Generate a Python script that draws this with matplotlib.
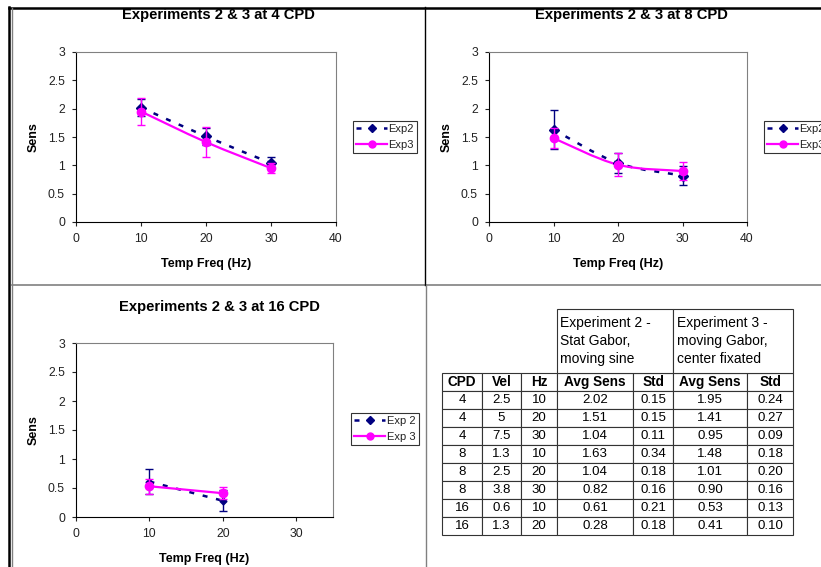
import matplotlib
matplotlib.use("Agg")
import matplotlib.pyplot as plt
from matplotlib.path import Path
from matplotlib.patches import PathPatch
from matplotlib.lines import Line2D

plt.rcParams['font.family'] = ['Liberation Sans', 'DejaVu Sans']

W, H = 821, 567

# table data (also the source for the three charts)
cpd = [4, 4, 4, 8, 8, 8, 16, 16]
vel = ['2.5', '5', '7.5', '1.3', '2.5', '3.8', '0.6', '1.3']
hz = [10, 20, 30, 10, 20, 30, 10, 20]
exp2_avg = [2.02, 1.51, 1.04, 1.63, 1.04, 0.82, 0.61, 0.28]
exp2_std = [0.15, 0.15, 0.11, 0.34, 0.18, 0.16, 0.21, 0.18]
exp3_avg = [1.95, 1.41, 0.95, 1.48, 1.01, 0.90, 0.53, 0.41]
exp3_std = [0.24, 0.27, 0.09, 0.18, 0.20, 0.16, 0.13, 0.10]

col_labels = ['CPD', 'Vel', 'Hz', 'Avg Sens', 'Std', 'Avg Sens', 'Std']
group_labels = ['Experiment 2 -\nStat Gabor,\nmoving sine',
                'Experiment 3 -\nmoving Gabor,\ncenter fixated']

NAVY = '#000080'
MAG = '#FF00FF'
GREY = '#808080'
DASH = (0, (2.0, 3.5))

fig = plt.figure(figsize=(W / 100, H / 100), dpi=100)
fig.patch.set_facecolor('white')


def fx(x):
    return x / W


def fy(y):
    return 1 - y / H


def px_axes(x0, y0, x1, y1):
    return fig.add_axes([fx(x0), fy(y1), (x1 - x0) / W, (y1 - y0) / H])


def smooth_path(xs, ys):
    # excel-style smoothed line: catmull-rom segments as cubic beziers
    pts = list(zip(xs, ys))
    if len(pts) < 3:
        return Path(pts)
    verts = [pts[0]]
    codes = [Path.MOVETO]
    n = len(pts)
    for i in range(n - 1):
        p0 = pts[i - 1] if i > 0 else pts[i]
        p1 = pts[i]
        p2 = pts[i + 1]
        p3 = pts[i + 2] if i + 2 < n else pts[i + 1]
        c1 = (p1[0] + (p2[0] - p0[0]) / 6, p1[1] + (p2[1] - p0[1]) / 6)
        c2 = (p2[0] - (p3[0] - p1[0]) / 6, p2[1] - (p3[1] - p1[1]) / 6)
        verts += [c1, c2, p2]
        codes += [Path.CURVE4] * 3
    return Path(verts, codes)


def chart(box, c, xmax, title_x, title_y, leg_xy, names, small=False):
    ax = px_axes(*box)
    idx = [i for i, v in enumerate(cpd) if v == c]
    x = [hz[i] for i in idx]
    e2 = [exp2_avg[i] for i in idx]
    e2s = [exp2_std[i] for i in idx]
    e3 = [exp3_avg[i] for i in idx]
    e3s = [exp3_std[i] for i in idx]

    ax.add_patch(PathPatch(smooth_path(x, e2), fill=False, edgecolor=NAVY,
                           lw=1.8, linestyle=DASH, zorder=3))
    ax.add_patch(PathPatch(smooth_path(x, e3), fill=False, edgecolor=MAG,
                           lw=1.6, zorder=3))
    ax.errorbar(x, e2, yerr=e2s, fmt='D', color=NAVY, ms=3.5 if small else 5,
                capsize=3, elinewidth=1, capthick=1, zorder=4)
    ax.errorbar(x, e3, yerr=e3s, fmt='o', color=MAG, ms=6, capsize=3,
                elinewidth=1, capthick=1, zorder=5)

    ax.set_xlim(0, xmax)
    ax.set_ylim(0, 3)
    ax.set_xticks(range(0, xmax + 1, 10))
    ax.set_yticks([0, 0.5, 1, 1.5, 2, 2.5, 3])
    ax.set_yticklabels(['0', '0.5', '1', '1.5', '2', '2.5', '3'])
    ax.tick_params(labelsize=8.8, colors='#222222', length=3, width=0.8,
                   pad=5)
    for s in ['top', 'right']:
        ax.spines[s].set_color(GREY)
        ax.spines[s].set_linewidth(0.8)
    for s in ['left', 'bottom']:
        ax.spines[s].set_color('black')
        ax.spines[s].set_linewidth(0.8)
    ax.set_xlabel('Temp Freq (Hz)', fontsize=9, fontweight='bold', labelpad=9)
    ax.set_ylabel('Sens', fontsize=9, fontweight='bold', labelpad=6)
    fig.text(fx(title_x), fy(title_y), f'Experiments 2 & 3 at {c} CPD',
             ha='center', va='center', fontsize=10.6, fontweight='bold')

    handles = [
        Line2D([], [], color=NAVY, lw=1.8, linestyle=DASH,
               marker='D', ms=4),
        Line2D([], [], color=MAG, lw=1.6, marker='o', ms=5),
    ]
    leg = ax.legend(handles, names, loc='upper left',
                    bbox_to_anchor=(fx(leg_xy[0]), fy(leg_xy[1])),
                    bbox_transform=fig.transFigure, fontsize=8,
                    frameon=True, fancybox=False, edgecolor='black',
                    borderpad=0.3, handlelength=2.8, handletextpad=0.1,
                    labelspacing=0.5, borderaxespad=0)
    leg.get_frame().set_linewidth(0.8)
    for t in leg.get_texts():
        t.set_color('#222222')
    return ax


chart((76, 52, 336, 222), 4, 40, 218, 15, (353, 121), ['Exp2', 'Exp3'])
chart((489, 52, 747, 222), 8, 40, 631, 15, (764, 121), ['Exp2', 'Exp3'])
chart((76, 343, 333, 517), 16, 35, 219, 307, (351, 413), ['Exp 2', 'Exp 3'],
      small=True)

# table
col_px = [442, 482, 521, 557, 633, 673, 747, 793]
t_top, t_bot = 373, 535
head_top = 309

rows = [col_labels]
for i in range(len(cpd)):
    rows.append([str(cpd[i]), vel[i], str(hz[i]), f'{exp2_avg[i]:.2f}',
                 f'{exp2_std[i]:.2f}', f'{exp3_avg[i]:.2f}',
                 f'{exp3_std[i]:.2f}'])

tax = fig.add_axes([0, 0, 1, 1])
tax.set_xlim(0, W)
tax.set_ylim(H, 0)
tax.axis('off')

widths = [col_px[i + 1] - col_px[i] for i in range(len(col_px) - 1)]
tw = col_px[-1] - col_px[0]
tbl = tax.table(cellText=rows, colWidths=[w / tw for w in widths],
                cellLoc='center',
                bbox=[fx(col_px[0]), fy(t_bot), tw / W, (t_bot - t_top) / H])
tbl.auto_set_font_size(False)
tbl.set_fontsize(9.5)
for (r, cc), cell in tbl.get_celld().items():
    cell.set_edgecolor('#333333')
    cell.set_linewidth(0.8)
    if r == 0:
        cell.get_text().set_fontweight('bold')
        cell.get_text().set_fontsize(9.8)

hw = col_px[-1] - col_px[3]
htbl = tax.table(cellText=[group_labels],
                 colWidths=[(col_px[5] - col_px[3]) / hw,
                            (col_px[7] - col_px[5]) / hw],
                 cellLoc='left',
                 bbox=[fx(col_px[3]), fy(t_top), hw / W,
                       (t_top - head_top) / H])
htbl.auto_set_font_size(False)
htbl.set_fontsize(10)
for (r, cc), cell in htbl.get_celld().items():
    cell.set_edgecolor('#333333')
    cell.set_linewidth(0.8)
    cell.PAD = 0.03
    cell.get_text().set_linespacing(1.4)

# page borders
def hline(y, x0, x1, color, lw):
    fig.add_artist(Line2D([fx(x0), fx(x1)], [fy(y), fy(y)], color=color,
                          lw=lw, transform=fig.transFigure))


def vline(x, y0, y1, color, lw):
    fig.add_artist(Line2D([fx(x), fx(x)], [fy(y0), fy(y1)], color=color,
                          lw=lw, transform=fig.transFigure))


hline(7.5, 9, W, 'black', 1.8)
vline(9, 7, H, 'black', 1.8)
vline(12, 8, H, GREY, 1.0)
hline(285, 12, W, GREY, 1.2)
vline(425, 7, 285, 'black', 1.0)
vline(426, 285, H, GREY, 1.0)

fig.savefig('out.png', dpi=100)
